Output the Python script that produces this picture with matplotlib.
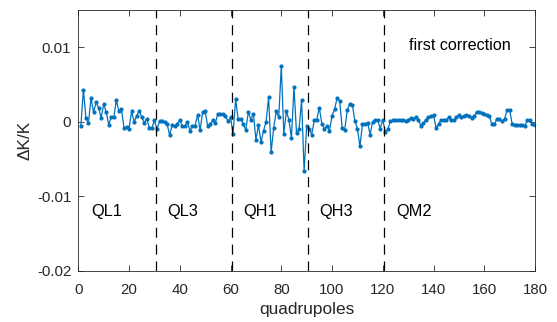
import numpy as np
import matplotlib
matplotlib.use("Agg")
import matplotlib.pyplot as plt

plt.rcParams['font.family'] = ['Liberation Sans', 'DejaVu Sans']

# Relative gradient errors of the 180 quadrupoles after the first correction
dk_over_k = [
    -0.0006, 0.0043, 0.0005, -0.0002, 0.0032, 0.0013, 0.0026, 0.0019, 0.0005, 0.0024,
    0.0013, -0.0004, 0.0007, 0.0007, 0.0029, 0.0014, 0.0017, -0.0008, -0.0007, -0.0009,
    0.0014, 0.0000, 0.0008, 0.0015, 0.0006, -0.0001, 0.0004, -0.0008, -0.0008, 0.0002,
    -0.0010, 0.0001, 0.0001, 0.0000, -0.0003, -0.0018, -0.0004, -0.0006, -0.0003, 0.0003,
    -0.0006, -0.0006, 0.0000, -0.0012, -0.0006, -0.0005, 0.0009, -0.0011, 0.0013, 0.0014,
    -0.0006, -0.0003, 0.0002, -0.0002, 0.0011, 0.0010, 0.0010, 0.0008, 0.0001, 0.0006,
    -0.0016, 0.0030, 0.0004, 0.0004, -0.0003, -0.0011, 0.0013, 0.0003, 0.0011, -0.0024,
    -0.0004, -0.0027, -0.0012, 0.0000, 0.0033, -0.0041, -0.0008, 0.0014, 0.0006, 0.0075,
    -0.0016, 0.0014, 0.0003, -0.0022, 0.0047, -0.0015, -0.0010, 0.0029, -0.0066, -0.0006,
    -0.0009, -0.0017, 0.0002, 0.0003, 0.0019, -0.0003, -0.0009, -0.0006, -0.0012, 0.0008,
    0.0017, 0.0032, 0.0028, -0.0008, -0.0011, 0.0016, 0.0024, 0.0023, 0.0001, -0.0009,
    -0.0033, -0.0003, -0.0003, -0.0001, -0.0017, 0.0000, 0.0002, 0.0002, -0.0009, 0.0003,
    -0.0014, -0.0010, 0.0001, 0.0002, 0.0002, 0.0002, 0.0002, 0.0002, 0.0001, 0.0003,
    0.0005, 0.0004, 0.0006, 0.0003, -0.0005, -0.0002, 0.0003, 0.0006, 0.0008, 0.0009,
    -0.0008, -0.0003, 0.0003, 0.0003, 0.0002, 0.0006, 0.0002, 0.0002, 0.0006, 0.0009,
    0.0006, 0.0008, 0.0009, 0.0008, 0.0005, 0.0008, 0.0013, 0.0013, 0.0012, 0.0011,
    0.0009, 0.0008, -0.0003, -0.0003, 0.0004, 0.0004, 0.0001, 0.0004, 0.0016, 0.0016,
    -0.0003, -0.0004, -0.0004, -0.0004, -0.0004, -0.0005, 0.0002, 0.0002, -0.0003, -0.0004,
]
quad_index = np.arange(1, len(dk_over_k) + 1)

# Family boundaries and family names
boundaries = [30.5, 60.5, 90.5, 120.5]
family_names = ["QL1", "QL3", "QH1", "QH3", "QM2"]
family_label_x = [5, 35, 65, 95, 125.5]

x_ticks = list(range(0, 181, 20))
y_ticks = [-0.02, -0.01, 0, 0.01]
y_tick_labels = ["-0.02", "-0.01", "0", "0.01"]

fig = plt.figure(figsize=(5.57, 3.22), dpi=100)
ax = fig.add_axes([0.1406, 0.1584, 0.8199, 0.8106])

ax.plot(quad_index, dk_over_k, color="#0072BD", linewidth=0.9,
        marker=".", markersize=4)

for b in boundaries:
    ax.axvline(b, color="black", linestyle=(0, (8, 5.5)), linewidth=0.9)

for name, xpos in zip(family_names, family_label_x):
    ax.text(xpos, -0.012, name, fontsize=11.8, va="center", ha="left")

ax.text(130.3, 0.0103, "first correction", fontsize=11.6, va="center", ha="left")

ax.set_xlim(0, 180)
ax.set_ylim(-0.02, 0.015)
ax.set_xticks(x_ticks)
ax.set_yticks(y_ticks)
ax.set_yticklabels(y_tick_labels)

axis_color = "#262626"
for s in ax.spines.values():
    s.set_color(axis_color)
    s.set_linewidth(0.6)
ax.tick_params(direction="in", length=4, width=0.6, colors=axis_color,
               labelsize=10.8, top=True, right=True)
ax.tick_params(axis="x", pad=8.5)
ax.tick_params(axis="y", pad=5)
ax.set_xlabel("quadrupoles", fontsize=12.4, color=axis_color)
ax.set_ylabel("ΔK/K", fontsize=12.4, color=axis_color)
ax.xaxis.set_label_coords(0.5, -0.118)
ax.yaxis.set_label_coords(-0.101, 0.5)

fig.savefig("out.png", dpi=100)
